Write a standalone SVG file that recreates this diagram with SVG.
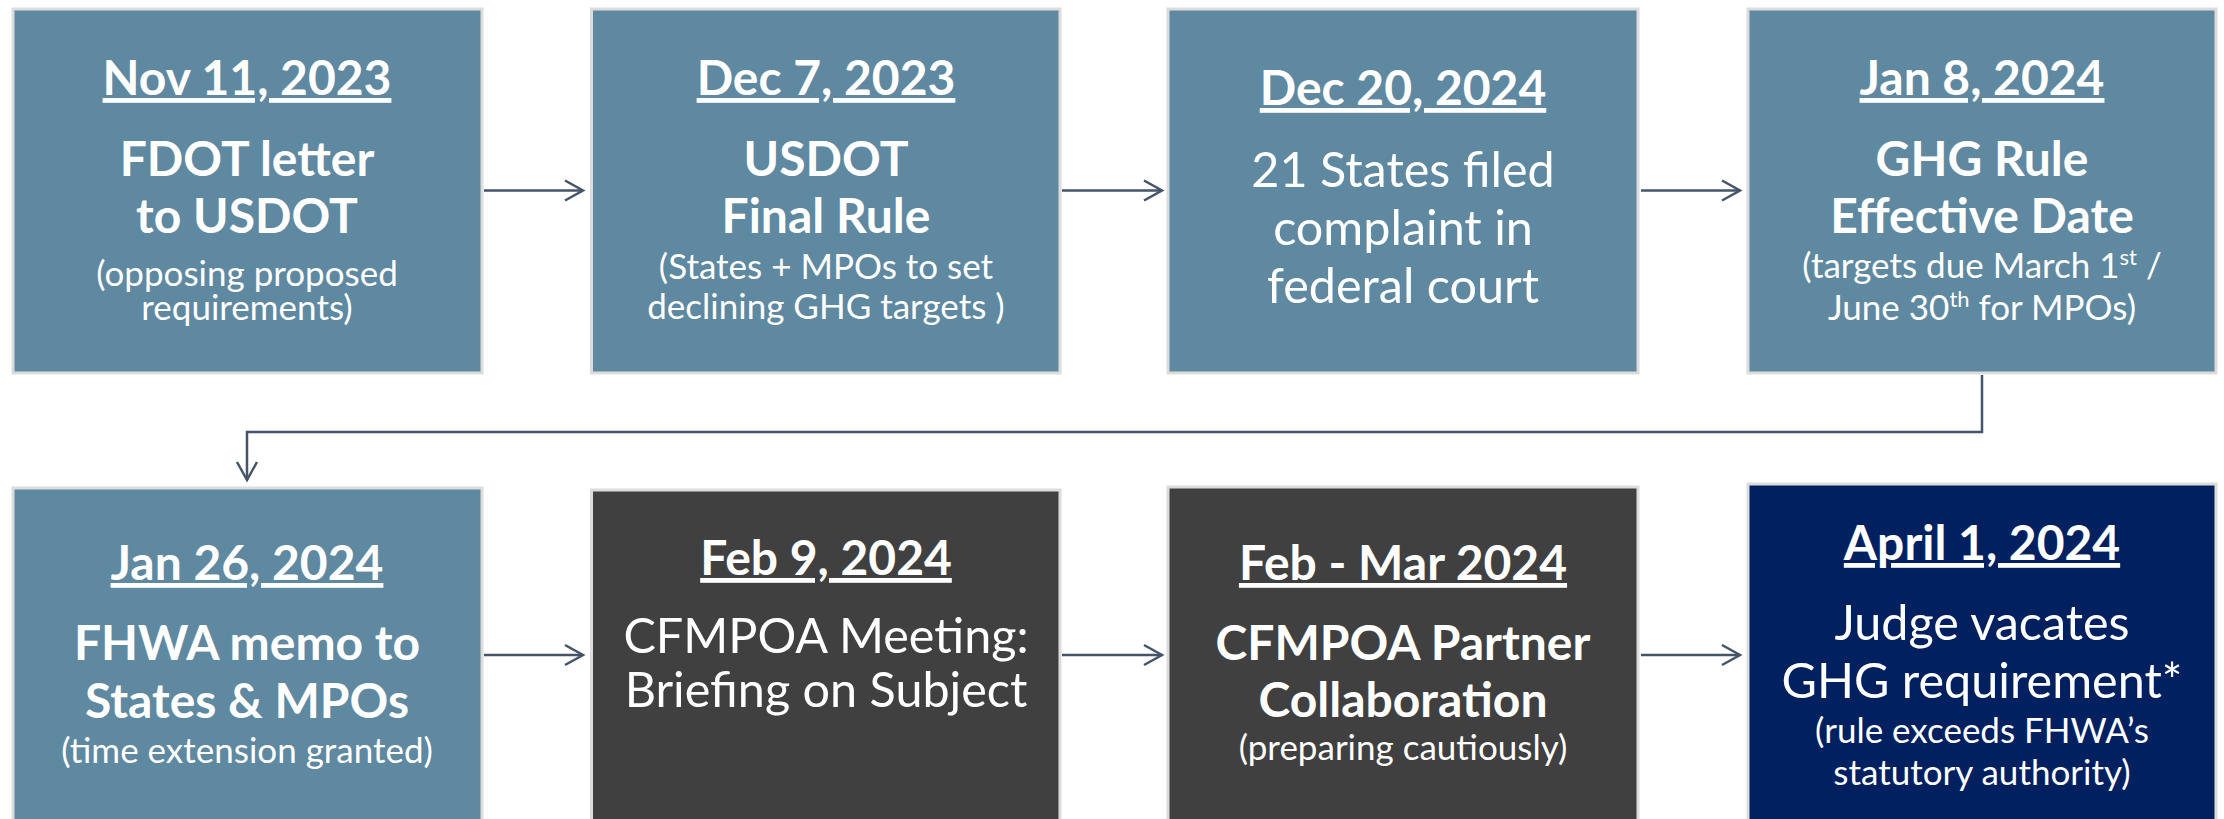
<svg xmlns="http://www.w3.org/2000/svg" width="2224" height="819" viewBox="0 0 2224 819">
<style>
.box{stroke:#dcdcdc;stroke-width:3}
.blue{fill:#5f88a1}
.gray{fill:#404040}
.navy{fill:#002060}
text{font-family:Lato,"Liberation Sans",sans-serif;fill:#ffffff;text-anchor:middle}
.date{font-size:48px;font-weight:bold;text-decoration:underline}
.tb{font-size:48px;font-weight:bold}
.tr{font-size:48.5px}
.sub{font-size:35px}
.sup{font-size:22px}
.conn{fill:none;stroke:#44546a;stroke-width:2.5}
</style>
<defs>
<marker id="ah" markerUnits="userSpaceOnUse" markerWidth="24" markerHeight="26" refX="20" refY="12" orient="auto">
<path d="M2,2 L20,12 L2,22" fill="none" stroke="#44546a" stroke-width="2.5"/>
</marker>
</defs>
<rect width="2224" height="819" fill="#ffffff"/>
<g id="connectors">
<line class="conn" x1="484" y1="190.5" x2="583" y2="190.5" marker-end="url(#ah)"/>
<line class="conn" x1="1062" y1="190.5" x2="1162" y2="190.5" marker-end="url(#ah)"/>
<line class="conn" x1="1641" y1="190.5" x2="1740" y2="190.5" marker-end="url(#ah)"/>
<polyline class="conn" points="1982,375 1982,432 247,432 247,480" marker-end="url(#ah)"/>
<line class="conn" x1="484" y1="655" x2="583" y2="655" marker-end="url(#ah)"/>
<line class="conn" x1="1062" y1="655" x2="1162" y2="655" marker-end="url(#ah)"/>
<line class="conn" x1="1641" y1="655" x2="1740" y2="655" marker-end="url(#ah)"/>
</g>
<g id="n1">
<rect class="box blue" x="13" y="9" width="469" height="364"/>
<text class="date" x="247" y="95">Nov 11, 2023</text>
<text class="tb" x="247" y="176">FDOT letter</text>
<text class="tb" x="247" y="233">to USDOT</text>
<text class="sub" x="247" y="286">(opposing proposed</text>
<text class="sub" x="247" y="320">requirements)</text>
</g>
<g id="n2">
<rect class="box blue" x="591.5" y="9" width="468.5" height="364"/>
<text class="date" x="826" y="95">Dec 7, 2023</text>
<text class="tb" x="826" y="176">USDOT</text>
<text class="tb" x="826" y="233">Final Rule</text>
<text class="sub" x="826" y="279">(States + MPOs to set</text>
<text class="sub" x="826" y="319">declining GHG targets )</text>
</g>
<g id="n3">
<rect class="box blue" x="1168" y="9" width="470" height="364"/>
<text class="date" x="1403" y="105">Dec 20, 2024</text>
<text class="tr" x="1403" y="187">21 States filed</text>
<text class="tr" x="1403" y="245">complaint in</text>
<text class="tr" x="1403" y="303">federal court</text>
</g>
<g id="n4">
<rect class="box blue" x="1748" y="9" width="468" height="364"/>
<text class="date" x="1982" y="95">Jan 8, 2024</text>
<text class="tb" x="1982" y="176">GHG Rule</text>
<text class="tb" x="1982" y="233">Effective Date</text>
<text class="sub" x="1982" y="278">(targets due March 1<tspan class="sup" dy="-13">st</tspan><tspan dy="13"> /</tspan></text>
<text class="sub" x="1982" y="320">June 30<tspan class="sup" dy="-13">th</tspan><tspan dy="13"> for MPOs)</tspan></text>
</g>
<g id="n5">
<rect class="box blue" x="13" y="488" width="469" height="340"/>
<text class="date" x="247" y="580">Jan 26, 2024</text>
<text class="tb" x="247" y="660">FHWA memo to</text>
<text class="tb" x="247" y="718">States &amp; MPOs</text>
<text class="sub" x="247" y="763">(time extension granted)</text>
</g>
<g id="n6">
<rect class="box gray" x="591.5" y="490" width="468.5" height="340"/>
<text class="date" x="826" y="575">Feb 9, 2024</text>
<text class="tr" x="826" y="653">CFMPOA Meeting:</text>
<text class="tr" x="826" y="707">Briefing on Subject</text>
</g>
<g id="n7">
<rect class="box gray" x="1168" y="487" width="470" height="340"/>
<text class="date" x="1403" y="580">Feb - Mar 2024</text>
<text class="tb" x="1403" y="660">CFMPOA Partner</text>
<text class="tb" x="1403" y="717">Collaboration</text>
<text class="sub" x="1403" y="760">(preparing cautiously)</text>
</g>
<g id="n8">
<rect class="box navy" x="1748" y="484" width="468" height="345"/>
<text class="date" x="1982" y="560">April 1, 2024</text>
<text class="tr" x="1982" y="640">Judge vacates</text>
<text class="tr" x="1982" y="698">GHG requirement*</text>
<text class="sub" x="1982" y="743">(rule exceeds FHWA’s</text>
<text class="sub" x="1982" y="785">statutory authority)</text>
</g>
</svg>
